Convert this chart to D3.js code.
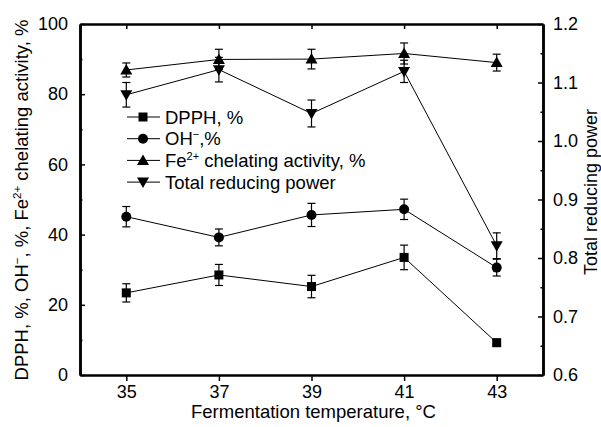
<!DOCTYPE html>
<html>
<head>
<meta charset="utf-8">
<script src="https://cdn.jsdelivr.net/npm/d3@7"></script>
<style>
body { margin: 0; background: #fff; }
text { font-family: "Liberation Sans", Arial, sans-serif; fill: #000; }
</style>
</head>
<body>
<div id="plot1"></div>
<script>
// data
var temps = [35, 37, 39, 41, 43];
var dpph = [23.4, 28.5, 25.2, 33.5, 9.2];
var dpphErr = [2.6, 3.0, 3.2, 3.5, 1.0];
var oh = [45.1, 39.2, 45.6, 47.2, 30.6];
var ohErr = [2.9, 2.4, 3.3, 2.9, 2.4];
var fe = [86.9, 89.9, 90.0, 91.6, 89.0];
var feErr = [2.0, 2.9, 2.8, 3.0, 2.4];
var trp = [1.079, 1.122, 1.047, 1.119, 0.821];
var trpErr = [0.021, 0.021, 0.023, 0.019, 0.022];

var leftTicks = [0, 20, 40, 60, 80, 100];
var rightTicks = [0.6, 0.7, 0.8, 0.9, 1.0, 1.1, 1.2];

var W = 601, H = 427;
var margin = {t: 24, r: 58, b: 52, l: 80};
var width = W - margin.l - margin.r,
    height = H - margin.t - margin.b;

var svg = d3.select('#plot1').append('svg')
    .attr('width', W).attr('height', H);
var g = svg.append('g').attr('transform', 'translate(' + margin.l + ',' + margin.t + ')');

var x = d3.scaleLinear().domain([34, 44]).range([0, width]);
var yL = d3.scaleLinear().domain([0, 100]).range([height, 0]);
var yR = d3.scaleLinear().domain([0.6, 1.2]).range([height, 0]);

// axes
g.append('g').attr('transform', 'translate(0,' + height + ')')
    .call(d3.axisBottom(x).tickValues(temps).tickSize(6).tickSizeOuter(0).tickPadding(4));
g.append('g')
    .call(d3.axisTop(x).tickValues(temps).tickSize(-5).tickSizeOuter(0).tickFormat(''));
g.append('g')
    .call(d3.axisLeft(yL).tickValues(leftTicks).tickSize(-5).tickSizeOuter(0).tickPadding(12));
g.append('g')
    .call(d3.axisLeft(yL).tickValues([10, 30, 50, 70, 90]).tickSize(-2.5).tickSizeOuter(0).tickFormat(''));
g.append('g').attr('transform', 'translate(' + width + ',0)')
    .call(d3.axisRight(yR).tickValues(rightTicks).tickSize(-5).tickSizeOuter(0).tickPadding(10).tickFormat(d3.format('.1f')));
g.append('g').attr('transform', 'translate(' + width + ',0)')
    .call(d3.axisRight(yR).tickValues([0.65, 0.75, 0.85, 0.95, 1.05, 1.15]).tickSize(-2.5).tickSizeOuter(0).tickFormat(''));

g.selectAll('.domain').attr('stroke', '#000').attr('stroke-width', 2.5);
g.selectAll('.tick line').attr('stroke', '#000').attr('stroke-width', 1.5);
g.selectAll('.tick text').style('font-size', '18px').attr('fill', '#000');

// series
var series = [
    {name: 'dpph', vals: dpph, err: dpphErr, y: yL, shape: 'square'},
    {name: 'oh', vals: oh, err: ohErr, y: yL, shape: 'circle'},
    {name: 'fe', vals: fe, err: feErr, y: yL, shape: 'up'},
    {name: 'trp', vals: trp, err: trpErr, y: yR, shape: 'down'}
];

function marker(sel, shape) {
    if (shape === 'square') {
        sel.append('rect').attr('x', -4.5).attr('y', -4.5).attr('width', 9).attr('height', 9).attr('fill', '#000');
    } else if (shape === 'circle') {
        sel.append('circle').attr('r', 5).attr('fill', '#000');
    } else if (shape === 'up') {
        sel.append('path').attr('d', 'M0,-6L6,4.5L-6,4.5Z').attr('fill', '#000');
    } else {
        sel.append('path').attr('d', 'M0,6L6,-4.5L-6,-4.5Z').attr('fill', '#000');
    }
}

series.forEach(function(s) {
    var pts = temps.map(function(t, i) { return {t: t, v: s.vals[i], e: s.err[i]}; });
    var line = d3.line().x(function(d) { return x(d.t); }).y(function(d) { return s.y(d.v); });
    g.append('path').datum(pts).attr('d', line)
        .attr('fill', 'none').attr('stroke', '#000').attr('stroke-width', 1);

    var eb = g.append('g').selectAll('.err').data(pts).enter().append('g');
    eb.append('line')
        .attr('x1', function(d) { return x(d.t); }).attr('x2', function(d) { return x(d.t); })
        .attr('y1', function(d) { return s.y(d.v - d.e); }).attr('y2', function(d) { return s.y(d.v + d.e); })
        .attr('stroke', '#000').attr('stroke-width', 1.2);
    [-1, 1].forEach(function(k) {
        eb.append('line')
            .attr('x1', function(d) { return x(d.t) - 4; }).attr('x2', function(d) { return x(d.t) + 4; })
            .attr('y1', function(d) { return s.y(d.v + k * d.e); }).attr('y2', function(d) { return s.y(d.v + k * d.e); })
            .attr('stroke', '#000').attr('stroke-width', 1.2);
    });

    g.append('g').selectAll('.pt').data(pts).enter().append('g')
        .attr('transform', function(d) { return 'translate(' + x(d.t) + ',' + s.y(d.v) + ')'; })
        .each(function() { marker(d3.select(this), s.shape); });
});

// legend
var legendRows = [
    {shape: 'square', parts: [['DPPH, %', null]]},
    {shape: 'circle', parts: [['OH', null], ['\u2212', 'sup'], [',%', null]]},
    {shape: 'up', parts: [['Fe', null], ['2+', 'sup'], [' chelating activity, %', null]]},
    {shape: 'down', parts: [['Total reducing power', null]]}
];
var legend = svg.append('g').attr('transform', 'translate(127,117)');
legendRows.forEach(function(r, i) {
    var row = legend.append('g').attr('transform', 'translate(0,' + (i * 21.7) + ')');
    row.append('line').attr('x1', 0).attr('x2', 33).attr('stroke', '#000').attr('stroke-width', 1);
    marker(row.append('g').attr('transform', 'translate(16,0)'), r.shape);
    var txt = row.append('text').attr('x', 38).attr('y', 6.5).style('font-size', '18.5px');
    r.parts.forEach(function(p) {
        var ts = txt.append('tspan').text(p[0]);
        if (p[1] === 'sup') ts.attr('dy', -7).style('font-size', '11px');
        else if (txt.selectAll('tspan').size() > 1) ts.attr('dy', 7);
    });
});

// axis titles
svg.append('text').attr('x', margin.l + width / 2 + 2).attr('y', 418)
    .attr('text-anchor', 'middle').style('font-size', '18.5px')
    .text('Fermentation temperature, \u00B0C');

var lt = svg.append('text').attr('transform', 'translate(28,200) rotate(-90)')
    .attr('text-anchor', 'middle').style('font-size', '18.5px');
lt.append('tspan').text('DPPH, %, OH');
lt.append('tspan').text('\u2212').attr('dy', -7).style('font-size', '11.5px');
lt.append('tspan').text(', %, Fe').attr('dy', 7);
lt.append('tspan').text('2+').attr('dy', -7).style('font-size', '11.5px');
lt.append('tspan').text(' chelating activity, %').attr('dy', 7);

svg.append('text').attr('transform', 'translate(597,192) rotate(-90)')
    .attr('text-anchor', 'middle').style('font-size', '18px')
    .text('Total reducing power');
</script>
</body>
</html>
